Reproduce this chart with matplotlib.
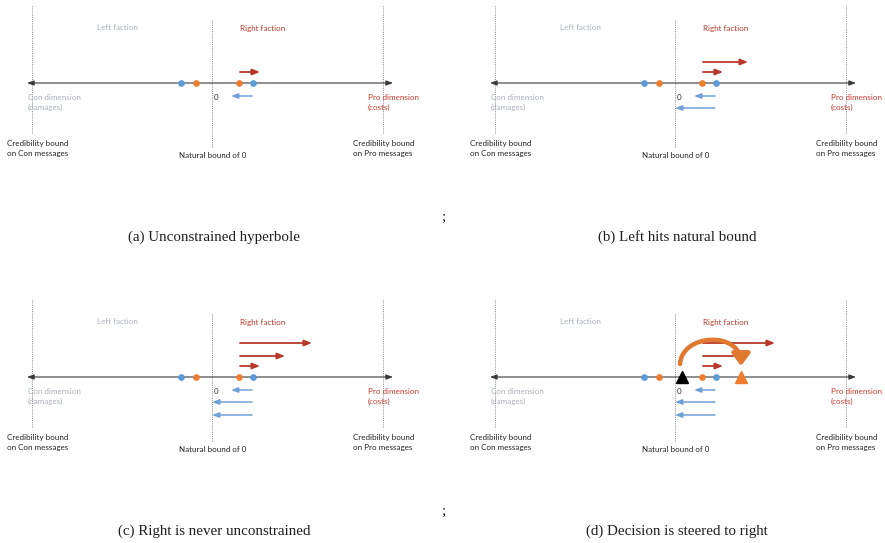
import matplotlib.pyplot as plt
from matplotlib.patches import FancyArrowPatch
from matplotlib.path import Path

# message space: natural bound at 0, credibility bounds on either side
con_bound = -180
pro_bound = 171
left_points = [-31, 41]     # blue dots
right_points = [-16, 27]    # orange dots
red_start = 28
blue_start = 40
red_ends = [[48], [48, 73], [48, 73, 100], [48, 73, 100]]
blue_ends = [[19], [19, 0], [19, 0, 0], [19, 0, 0]]
status_quo = 7
decision = 66
captions = ["(a) Unconstrained hyperbole", "(b) Left hits natural bound",
            "(c) Right is never unconstrained", "(d) Decision is steered to right"]

W, H = 885, 543
RED = "#b8392b"
BLUE = "#6fa0d8"
DOT_BLUE = "#5b9bd5"
DOT_ORANGE = "#ed7d31"
GREY_TXT = "#a9afbb"
FONT = "Lato"
FS = 5.8

red_levels = [11, 21, 34]
blue_levels = [-13, -25, -38]


def panel(ax, k):
    ax.set_xlim(-212, 228)
    ax.set_ylim(-97, 83)
    ax.axis("off")

    # bounds
    for x, top, bot in [(con_bound, 78, -50), (0, 64, -64), (pro_bound, 78, -50)]:
        ax.plot([x, x], [bot, top], ls=(0, (1, 1.2)), lw=0.7, color="#8c8c8c")

    # the line itself
    ax.annotate("", xy=(181, 0), xytext=(-185, 0),
                arrowprops=dict(arrowstyle="<|-|>,head_width=0.15,head_length=0.4",
                                lw=0.8, color="#3a3a3a", shrinkA=0, shrinkB=0))

    for e, lv in zip(red_ends[k], red_levels):
        ax.annotate("", xy=(e, lv), xytext=(red_start, lv),
                    arrowprops=dict(arrowstyle="-|>,head_width=0.18,head_length=0.45",
                                    lw=1.3, color=RED, shrinkA=0, shrinkB=0))
    for e, lv in zip(blue_ends[k], blue_levels):
        ax.annotate("", xy=(e, lv), xytext=(blue_start, lv),
                    arrowprops=dict(arrowstyle="-|>,head_width=0.15,head_length=0.4",
                                    lw=1.1, color=BLUE, shrinkA=0, shrinkB=0))

    ax.plot(left_points, [0] * len(left_points), "o", ms=3.8, color=DOT_BLUE, zorder=5)
    ax.plot(right_points, [0] * len(right_points), "o", ms=3.8, color=DOT_ORANGE, zorder=5)

    if k == 3:
        ax.plot([status_quo], [0], "^", ms=9, color="black", zorder=6)
        ax.plot([decision], [0], "^", ms=9, color="#ee7d2e", zorder=6)
        # curved jump from the status quo over to the decision
        x0, x1 = status_quo - 2, decision
        verts = [(x0, 13), (x0 + 2, 44), (x1, 46), (x1, 11)]
        arc = FancyArrowPatch(path=Path(verts, [Path.MOVETO, Path.CURVE4, Path.CURVE4, Path.CURVE4]),
                              arrowstyle="-|>,head_width=0.45,head_length=0.6",
                              mutation_scale=12, lw=3.2, color="#e0782f", zorder=7,
                              shrinkA=0, shrinkB=0)
        ax.add_patch(arc)

    t = dict(fontsize=FS, family=FONT)
    ax.text(-95, 55, "Left faction", ha="center", va="center", color=GREY_TXT, **t)
    ax.text(51, 55, "Right faction", ha="center", va="center", color=RED, **t)
    ax.text(4, -14, "0", ha="center", va="center", color="#333333", **t)
    ax.text(-184, -19.5, "Con dimension\n(damages)", ha="left", va="center",
            color=GREY_TXT, linespacing=1.45, **t)
    ax.text(156, -19.5, "Pro dimension\n(costs)", ha="left", va="center",
            color="#cc3b2e", linespacing=1.45, **t)
    ax.text(-205, -65.5, "Credibility bound\non Con messages", ha="left", va="center",
            color="#222222", linespacing=1.45, **t)
    ax.text(1, -72, "Natural bound of 0", ha="center", va="center", color="#222222", **t)
    ax.text(141, -65.5, "Credibility bound\non Pro messages", ha="left", va="center",
            color="#222222", linespacing=1.45, **t)


fig = plt.figure(figsize=(W / 100, H / 100), dpi=100)
offsets = [(0, 0), (463, 0), (0, 294), (463, 294)]
for k, (dx, dy) in enumerate(offsets):
    ax = fig.add_axes([dx / W, 1 - (dy + 180) / H, 440 / W, 180 / H])
    panel(ax, k)

cap = dict(fontsize=10.8, family="Liberation Serif", ha="center", va="center", color="#1e1e1e")
for (cx, cy), c in zip([(214, 237), (677, 237), (214, 531), (677, 531)], captions):
    fig.text(cx / W, 1 - cy / H, c, **cap)
for cy in (217, 511):
    fig.text(443 / W, 1 - cy / H, ";", **cap)

fig.savefig("out.png", dpi=100)
